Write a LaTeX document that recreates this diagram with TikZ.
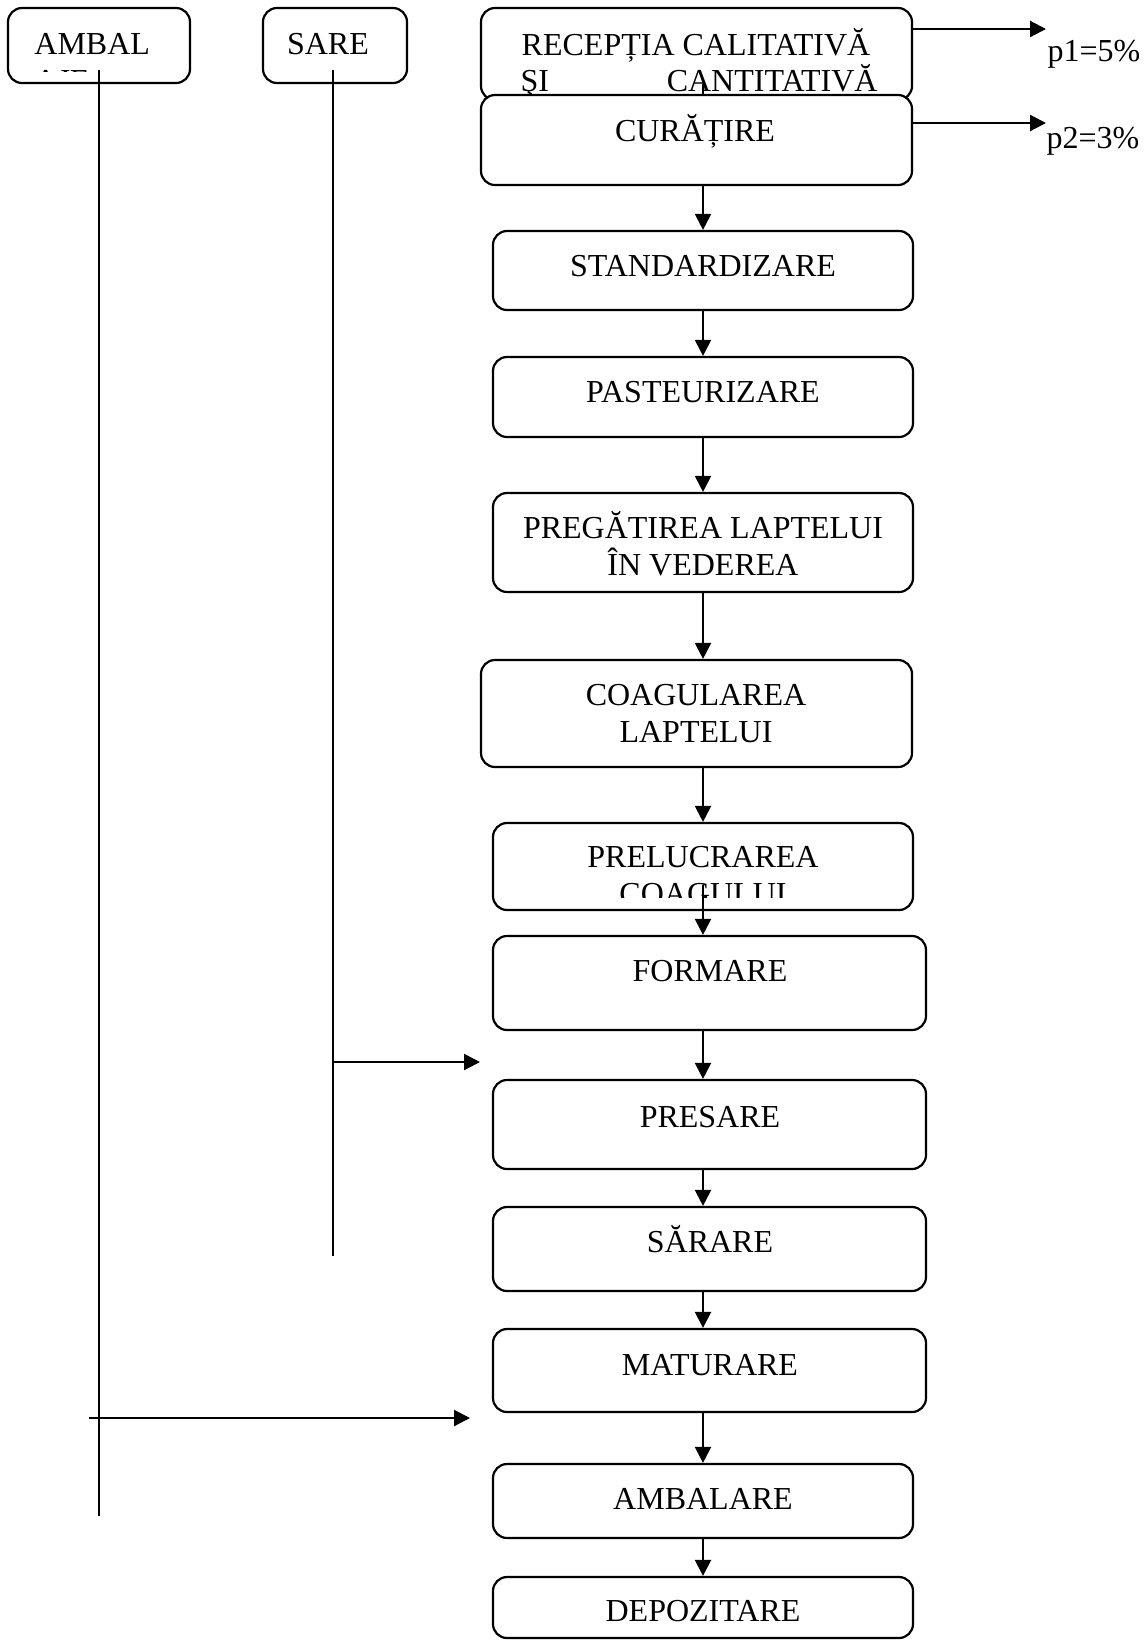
\documentclass[tikz,border=0pt]{standalone}
\usepackage{fontspec}
\setmainfont{Liberation Serif}
\usetikzlibrary{arrows.meta,fit}
\tikzset{
  procbox/.style={draw, line width=1.1pt, rounded corners=7pt, fill=white, inner sep=0pt},
  lbl/.style={font=\fontsize{16}{18}\selectfont, inner sep=0pt, anchor=base},
  lblw/.style={font=\fontsize{16}{18}\selectfont, inner sep=0pt, anchor=base west},
  conn/.style={line width=1.1pt},
  arr/.style={line width=1.1pt, -{Triangle[length=8pt,width=8pt]}}
}
\begin{document}
\begin{tikzpicture}[x=0.5pt,y=-0.5pt]
\useasboundingbox (0,0) rectangle (1145,1640);
\coordinate (col) at (703,0);

% left supply boxes
\node[procbox, fit={(8,8) (190,83)}] (ambal) {};
\node[lblw] at (34,54) {AMBAL};
\begin{scope}
  \clip (9,60) rectangle (189,71);
  \node[lblw] at (34,91) {AJE};
\end{scope}
\node[procbox, fit={(263,8) (407,83)}] (sare) {};
\node[lbl] at (328,54) {SARE};

% main column
\node[procbox, fit={(481,8) (912,100)}] (recep) {};
\node[lbl] at (696,55) {RECEPȚIA CALITATIVĂ};
\node[lbl] at (699,91) {\makebox[178.5pt][s]{ŞI\hfill CANTITATIVĂ}};
\coordinate (rc) at (703,84);
\draw[conn] (rc) -- (703,96);
\node[procbox, fit={(481,95) (912,185)}] (curat) {};
\node[lbl] at (695,141) {CURĂȚIRE};

\node[procbox, fit={(493,231) (913,310)}] (stand) {};
\node[lbl] at (703,276) {STANDARDIZARE};
\node[procbox, fit={(493,357) (913,437)}] (past) {};
\node[lbl] at (703,402) {PASTEURIZARE};
\node[procbox, fit={(493,493) (913,592)}] (preg) {};
\node[lbl] at (703,538) {PREGĂTIREA LAPTELUI};
\node[lbl] at (703,575) {ÎN VEDEREA};
\node[procbox, fit={(481,660) (912,767)}] (coag) {};
\node[lbl] at (696,705) {COAGULAREA};
\node[lbl] at (696,742) {LAPTELUI};
\node[procbox, fit={(493,823) (913,910)}] (prel) {};
\node[lbl] at (703,867) {PRELUCRAREA};
\begin{scope}
  \clip (494,870) rectangle (912,897);
  \node[lbl] at (703,904) {COAGULUI};
\end{scope}
\node[procbox, fit={(493,936) (926,1030)}] (form) {};
\node[lbl] at (710,981) {FORMARE};
\node[procbox, fit={(493,1080) (926,1169)}] (pres) {};
\node[lbl] at (710,1127) {PRESARE};
\node[procbox, fit={(493,1207) (926,1291)}] (sar) {};
\node[lbl] at (710,1252) {SĂRARE};
\node[procbox, fit={(493,1329) (926,1412)}] (mat) {};
\node[lbl] at (710,1375) {MATURARE};
\node[procbox, fit={(493,1464) (913,1538)}] (amb) {};
\node[lbl] at (703,1509) {AMBALARE};
\node[procbox, fit={(493,1577) (913,1638)}] (dep) {};
\node[lbl] at (703,1621) {DEPOZITARE};

% losses
\node[lbl] (p1) at (1094,61) {p1=5\%};
\node[lbl] (p2) at (1093,148) {p2=3\%};
\coordinate (p1a) at (1046,29);
\coordinate (p2a) at (1046,123);
\draw[arr] (recep.east |- p1a) -- (p1a);
\draw[arr] (curat.east |- p2a) -- (p2a);

% main flow arrows
\draw[arr] (curat.south -| col) -- (stand.north -| col);
\draw[arr] (stand.south -| col) -- (past.north -| col);
\draw[arr] (past.south -| col) -- (preg.north -| col);
\draw[arr] (preg.south -| col) -- (coag.north -| col);
\draw[arr] (coag.south -| col) -- (prel.north -| col);
\coordinate (pc) at (703,885);
\draw[arr] (pc) -- (form.north -| col);
\draw[arr] (form.south -| col) -- (pres.north -| col);
\draw[arr] (pres.south -| col) -- (sar.north -| col);
\draw[arr] (sar.south -| col) -- (mat.north -| col);
\draw[arr] (mat.south -| col) -- (amb.north -| col);
\draw[arr] (amb.south -| col) -- (dep.north -| col);

% supply lines
\coordinate (aTop) at (99,70);
\coordinate (aBot) at (99,1516);
\coordinate (sTop) at (333,70);
\coordinate (sBot) at (333,1256);
\draw[conn] (aTop) -- (aBot);
\draw[conn] (sTop) -- (sBot);
\coordinate (sArrS) at (333,1062);
\coordinate (sArrE) at (480,1062);
\draw[arr] (sArrS) -- (sArrE);
\coordinate (aArrS) at (89,1418);
\coordinate (aArrE) at (470,1418);
\draw[arr] (aArrS) -- (aArrE);
\end{tikzpicture}
\end{document}
